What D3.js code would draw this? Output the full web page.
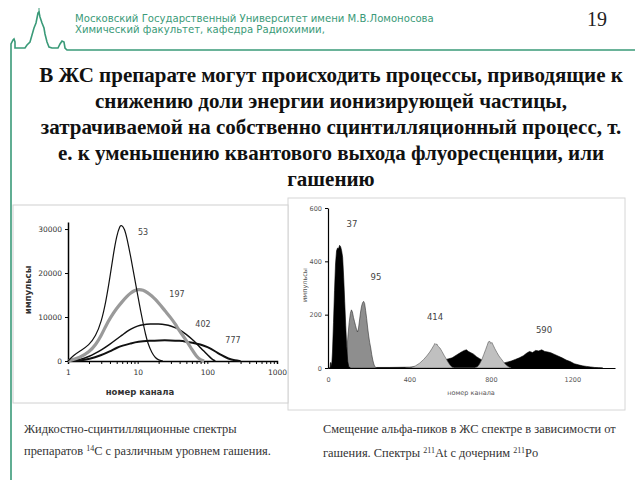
<html>
<head>
<meta charset="utf-8">
<script src="https://cdn.jsdelivr.net/npm/d3@7"></script>
</head>
<body style="margin:0">
<script>
// ---- data: left chart, 14C spectra (channel, counts) ----
const quenchLeft = ["53", "197", "402", "777"];
const c14_53 = [[1,0],[1.2,1300],[1.5,2300],[2,3600],[2.5,5700],[3,8800],[3.5,13500],[4,19000],[4.5,24500],[5,28500],[5.5,30600],[5.9,31000],[6.5,30000],[7,28000],[8,23500],[9,19000],[10,15000],[11,11500],[12,8500],[13,6000],[14,4000],[16,1800],[18,700],[20,200],[23,0]];
const c14_197 = [[1,0],[1.5,800],[2,2000],[2.5,3700],[3,5800],[3.5,8000],[4,9700],[5,12000],[6,13500],[7,14700],[8,15500],[9,16000],[10,16300],[12,16200],[14,15500],[16,14800],[18,14000],[20,13200],[25,11300],[30,9800],[35,8300],[40,6800],[50,4700],[60,2600],[70,1000],[80,200],[90,0]];
const c14_402 = [[1,0],[1.5,300],[2,1000],[2.5,1800],[3,2500],[4,3800],[5,5000],[6,5900],[7,6700],[8,7300],[10,8000],[12,8300],[15,8400],[20,8400],[25,8300],[30,8000],[40,7200],[50,6000],[60,5000],[70,4000],[80,3000],[90,2200],[100,1500],[110,800],[120,300],[130,0]];
const c14_777 = [[1,0],[1.5,100],[2,400],[3,1300],[4,2200],[5,3000],[6,3500],[8,4000],[10,4400],[15,4600],[20,4700],[30,4700],[40,4600],[50,4400],[60,4200],[80,3800],[100,3200],[130,2200],[160,1300],[200,500],[250,100],[300,0]];
const leftYTicks = [0, 10000, 20000, 30000];
const leftXTicks = [1, 10, 100, 1000];

// ---- data: right chart, alpha spectra 211At/211Po (channel, counts) ----
const quenchRight = ["37", "95", "414", "590"];
const at_37 = [[0,0],[10,0],[12,20],[15,20],[18,5],[22,60],[27,170],[32,290],[37,390],[42,440],[47,450],[52,448],[57,460],[62,455],[67,440],[72,415],[77,340],[82,250],[87,160],[92,80],[97,25],[102,5],[110,0]];
const at_95 = [[70,0],[85,10],[92,60],[98,120],[104,170],[110,205],[115,218],[120,210],[125,190],[130,175],[135,160],[140,145],[145,135],[150,150],[155,180],[160,210],[165,232],[170,245],[175,250],[180,242],[185,215],[190,185],[195,150],[200,120],[205,95],[210,75],[215,50],[220,30],[225,15],[230,5],[240,0]];
const at_414 = [[380,0],[410,2],[430,8],[450,18],[470,32],[485,45],[500,60],[510,72],[520,85],[525,92],[530,88],[535,90],[540,82],[550,75],[560,62],[570,48],[580,35],[590,22],[600,10],[610,3],[620,0],[720,0],[735,5],[745,15],[755,30],[765,50],[775,70],[782,85],[788,98],[795,100],[800,92],[805,96],[812,85],[820,72],[830,58],[840,45],[850,35],[860,25],[870,15],[880,8],[890,3],[900,0]];
const at_590 = [[230,0],[240,2],[300,2],[400,3],[440,6],[470,10],[500,14],[530,20],[560,28],[590,34],[610,38],[630,48],[645,55],[660,62],[670,66],[680,68],[690,62],[700,58],[715,52],[730,42],[745,35],[760,28],[780,22],[800,18],[820,16],[840,15],[860,18],[880,22],[900,26],[920,32],[940,38],[960,46],[975,55],[990,62],[1005,58],[1020,66],[1035,64],[1050,68],[1065,62],[1080,60],[1095,57],[1110,52],[1130,45],[1150,38],[1170,30],[1190,24],[1210,16],[1230,12],[1250,8],[1270,6],[1290,4],[1310,2],[1330,1],[1350,0]];
const rightYTicks = [0, 200, 400, 600];
const rightXTicks = [0, 400, 800, 1200];

// ---- text ----
const headerLines = ["Московский Государственный Университет имени М.В.Ломоносова", "Химический факультет, кафедра Радиохимии,"];
const titleLines = [
  "В ЖС препарате могут происходить процессы, приводящие к",
  "снижению доли энергии ионизирующей частицы,",
  "затрачиваемой на собственно сцинтилляционный процесс, т.",
  "е. к уменьшению квантового выхода флуоресценции, или",
  "гашению"
];

const SERIF = '"Liberation Serif"';
const SANS = '"DejaVu Sans"';
const green = "#3a9a78";
const svg = d3.select("body").append("svg").attr("width", 640).attr("height", 480)
  .style("display", "block");
svg.append("rect").attr("width", 640).attr("height", 480).attr("fill", "#fff");

// ---- header ----
svg.append("path")
  .attr("d", "M11,480 L11,44 L13,40 L14,39 L15,42 L15,48 L25,48 L27,45 L30,42 L32,35 L34,28 L36,23 L37,18 L38,13 L39,12 L40,17 L42,23 L44,28 L45,34 L47,42 L49,47 L52,48 L58,48 L60,44 L62,41 L64,42 L65,48 L67,50 L635,50")
  .attr("fill", "none").attr("stroke", green).attr("stroke-width", 1.6);
svg.append("line").attr("x1", 39).attr("x2", 39).attr("y1", 8).attr("y2", 13).attr("stroke", green);

svg.selectAll("text.hdr").data(headerLines).join("text")
  .attr("class", "hdr")
  .attr("x", 75).attr("y", (d, i) => 22 + i * 11)
  .style("font-family", SANS)
  .attr("font-size", 10.1)
  .attr("fill", green)
  .text(d => d);

svg.append("text").attr("x", 597).attr("y", 26)
  .attr("text-anchor", "middle")
  .style("font-family", SERIF)
  .attr("font-size", 20).attr("fill", "#222").text("19");

// ---- title ----
svg.selectAll("text.title").data(titleLines).join("text")
  .attr("class", "title")
  .attr("x", 331).attr("y", (d, i) => 82 + i * 26)
  .attr("text-anchor", "middle")
  .style("font-family", SERIF)
  .attr("font-size", 21)
  .attr("font-weight", "bold")
  .attr("fill", "#111")
  .text(d => d);

// ---- frames ----
svg.append("rect").attr("x", 288).attr("y", 198).attr("width", 337).attr("height", 212)
  .attr("fill", "none").attr("stroke", "#d6d6d6");
svg.append("rect").attr("x", 13).attr("y", 205).attr("width", 275).attr("height", 198)
  .attr("fill", "#fff").attr("stroke", "#d0d0d0");

// ---- left chart ----
const xL = d3.scaleLog().domain([1, 1000]).range([68, 277]);
const yL = d3.scaleLinear().domain([0, 31600]).range([361, 222]);

const gL = svg.append("g");
const minorL = d3.range(1, 4).flatMap(e => d3.range(2, 10).map(m => m * Math.pow(10, e - 1)));
gL.append("g").attr("transform", "translate(0,361)")
  .call(d3.axisBottom(xL).tickValues(leftXTicks.concat(minorL)).tickSize(3)
    .tickFormat(d => leftXTicks.includes(d) ? d3.format("d")(d) : ""))
  .call(g => g.select(".domain").attr("stroke-width", 1.5))
  .call(g => g.selectAll("text").attr("dy", "1.1em"));
gL.append("g").attr("transform", "translate(68,0)")
  .call(d3.axisLeft(yL).tickValues(leftYTicks).tickSize(3).tickSizeOuter(0).tickFormat(d3.format("d")))
  .call(g => g.select(".domain").attr("stroke-width", 1.5));
gL.selectAll(".tick text")
  .style("font-family", SANS).attr("font-size", 7.5).attr("fill", "#333");

const lineL = d3.line().x(d => xL(d[0])).y(d => yL(d[1])).curve(d3.curveBasis);
const leftSeries = [
  { data: c14_777, color: "#111", w: 2 },
  { data: c14_402, color: "#111", w: 1.5 },
  { data: c14_197, color: "#9a9a9a", w: 3.2 },
  { data: c14_53, color: "#111", w: 1.2 }
];
gL.selectAll("path.c14").data(leftSeries).join("path")
  .attr("class", "c14")
  .attr("d", d => lineL(d.data))
  .attr("fill", "none").attr("stroke", d => d.color).attr("stroke-width", d => d.w);

const leftLabelPos = [[143, 235], [177, 297], [203, 327], [233, 343]];
gL.selectAll("text.ql").data(quenchLeft).join("text")
  .attr("class", "ql")
  .attr("x", (d, i) => leftLabelPos[i][0]).attr("y", (d, i) => leftLabelPos[i][1])
  .attr("text-anchor", "middle")
  .style("font-family", SANS)
  .attr("font-size", 8).attr("fill", "#444")
  .text(d => d);

gL.append("text").attr("x", 140).attr("y", 395).attr("text-anchor", "middle")
  .style("font-family", SANS).attr("font-weight", "bold")
  .attr("font-size", 8.5).attr("fill", "#333").text("номер канала");
gL.append("text").attr("transform", "translate(31,290) rotate(-90)").attr("text-anchor", "middle")
  .style("font-family", SANS).attr("font-weight", "bold")
  .attr("font-size", 8.5).attr("fill", "#333").text("импульсы");

// ---- right chart ----
const xR = d3.scaleLinear().domain([0, 1410]).range([328, 615]);
const yR = d3.scaleLinear().domain([0, 600]).range([368, 208]);
const gR = svg.append("g");

const areaR = d3.area().x(d => xR(d[0])).y0(yR(0)).y1(d => yR(d[1]));
const rightSeries = [
  { data: at_590, fill: "#000", stroke: "#000" },
  { data: at_95, fill: "#8e8e8e", stroke: "#333" },
  { data: at_37, fill: "#000", stroke: "#000" },
  { data: at_414, fill: "#c0c0c0", stroke: "#555" }
];
gR.selectAll("path.alpha").data(rightSeries).join("path")
  .attr("class", "alpha")
  .attr("d", d => areaR(d.data))
  .attr("fill", d => d.fill).attr("stroke", d => d.stroke).attr("stroke-width", 0.6);

gR.append("g").attr("transform", "translate(0,368)")
  .call(d3.axisBottom(xR).tickValues(rightXTicks).tickSize(0).tickPadding(9).tickSizeOuter(0).tickFormat(d3.format("d")))
  .call(g => g.select(".domain").attr("stroke-width", 1.2));
gR.append("g").attr("transform", "translate(328,0)")
  .call(d3.axisLeft(yR).tickValues(rightYTicks).tickSize(3).tickSizeOuter(0))
  .call(g => g.select(".domain").attr("stroke-width", 1.2));
gR.selectAll(".tick text")
  .style("font-family", SANS).attr("font-size", 6.5).attr("fill", "#555");

const rightLabelPos = [[352, 227], [376, 280], [435, 320], [544, 333]];
gR.selectAll("text.qr").data(quenchRight).join("text")
  .attr("class", "qr")
  .attr("x", (d, i) => rightLabelPos[i][0]).attr("y", (d, i) => rightLabelPos[i][1])
  .attr("text-anchor", "middle")
  .style("font-family", SANS)
  .attr("font-size", 8.5).attr("fill", "#444")
  .text(d => d);

gR.append("text").attr("x", 471).attr("y", 395).attr("text-anchor", "middle")
  .style("font-family", SANS)
  .attr("font-size", 6.5).attr("fill", "#555").text("номер канала");
gR.append("text").attr("transform", "translate(307,285) rotate(-90)").attr("text-anchor", "middle")
  .style("font-family", SANS)
  .attr("font-size", 6.5).attr("fill", "#555").text("импульсы");

// ---- captions ----
function caption(x, y, parts) {
  const t = svg.append("text").attr("x", x).attr("y", y)
    .style("font-family", SERIF)
    .attr("font-size", 12.4).attr("fill", "#333");
  parts.forEach(p => {
    const s = t.append("tspan").text(p.t);
    if (p.sup) s.attr("font-size", 8).attr("baseline-shift", "super");
  });
}
caption(24, 433, [{ t: "Жидкостно-сцинтилляционные спектры" }]);
caption(24, 455, [{ t: "препаратов " }, { t: "14", sup: true }, { t: "C с различным уровнем гашения." }]);
caption(323, 433, [{ t: "Смещение альфа-пиков в ЖС спектре в зависимости от" }]);
caption(323, 457, [{ t: "гашения. Спектры " }, { t: "211", sup: true }, { t: "At с дочерним " }, { t: "211", sup: true }, { t: "Po" }]);
</script>
</body>
</html>
